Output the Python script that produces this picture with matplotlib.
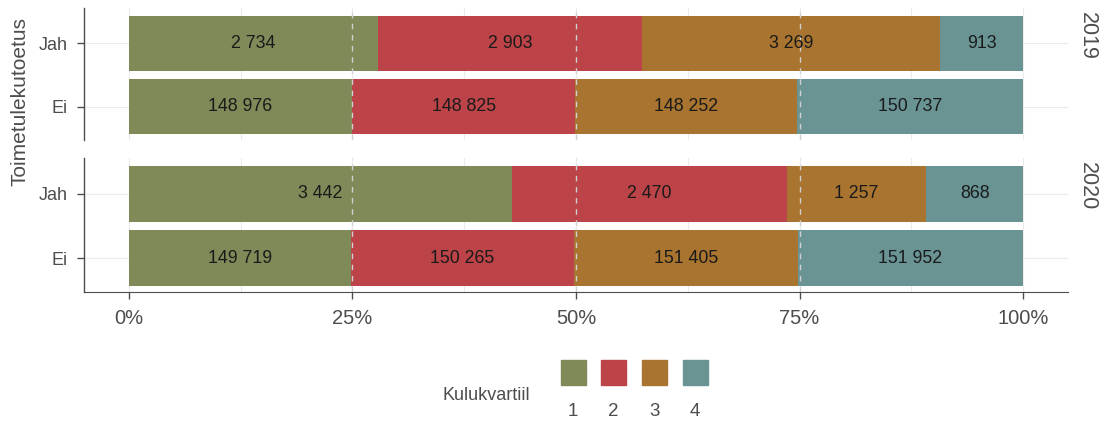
import numpy as np
import matplotlib.pyplot as plt
from matplotlib.patches import Rectangle

plt.rcParams['font.family'] = ['Liberation Sans', 'DejaVu Sans']

# data
years = ['2019', '2020']
groups = ['Ei', 'Jah']
quartiles = ['1', '2', '3', '4']
counts_2019 = {'Ei': [148976, 148825, 148252, 150737], 'Jah': [2734, 2903, 3269, 913]}
counts_2020 = {'Ei': [149719, 150265, 151405, 151952], 'Jah': [3442, 2470, 1257, 868]}
colors = ['#7F8A58', '#BC4347', '#A8742F', '#6A9494']

W, H = 1100, 423
fig = plt.figure(figsize=(W / 100, H / 100), dpi=100)

def fmt(n):
    return f'{n:,}'.replace(',', ' ')

# panel boxes in pixels: (top, bottom)
panels = [(8, 140), (158, 292)]
axes = []
for (top, bot), year, data in zip(panels, years, [counts_2019, counts_2020]):
    ax = fig.add_axes([84 / W, (H - bot) / H, (1068 - 84) / W, (bot - top) / H])
    axes.append(ax)
    ax.set_xlim(-0.0503, 1.0503)
    ax.set_ylim(-0.53, 1.56)
    for x in np.arange(0, 1.01, 0.125):
        ax.axvline(x, color='#EBEBEB', lw=0.8, zorder=0)
    for i in range(len(groups)):
        ax.axhline(i, color='#EBEBEB', lw=0.8, zorder=0)
    for i, g in enumerate(groups):
        vals = np.array(data[g], dtype=float)
        share = vals / vals.sum()
        left = np.concatenate([[0], np.cumsum(share)[:-1]])
        ax.barh(i, share, left=left, height=0.88, color=colors, zorder=2)
        for l, s, v in zip(left, share, vals):
            ax.text(l + s / 2, i, fmt(int(v)), ha='center', va='center',
                    fontsize=12.8, color='#1A1A1A', zorder=4)
    for x in [0.25, 0.5, 0.75]:
        ax.axvline(x, color='#D0D0D0', lw=1, ls=(0, (4, 4)), zorder=3)
    ax.set_yticks(range(len(groups)))
    ax.set_yticklabels(groups, fontsize=13, color='#4D4D4D')
    ax.tick_params(axis='y', length=5, color='#4D4D4D', width=1, pad=7)
    for s in ['top', 'right', 'bottom']:
        ax.spines[s].set_visible(False)
    ax.spines['left'].set_color('#4D4D4D')
    ax.spines['left'].set_linewidth(1)
    fig.text(1087 / W, (H - top - 4) / H, year, rotation=-90, ha='center', va='top',
             fontsize=15.5, color='#4D4D4D')

axes[0].set_xticks([])
ax = axes[1]
ax.spines['bottom'].set_visible(True)
ax.spines['bottom'].set_color('#4D4D4D')
ax.set_xticks([0, 0.25, 0.5, 0.75, 1])
ax.set_xticklabels(['0%', '25%', '50%', '75%', '100%'], fontsize=14.5, color='#4D4D4D')
ax.tick_params(axis='x', length=5, color='#4D4D4D', width=1, pad=7)

fig.text(20 / W, (H - 102) / H, 'Toimetulekutoetus', rotation=90, ha='center',
         va='center', fontsize=15, color='#4D4D4D')

# legend
lax = fig.add_axes([0, 0, 1, 1])
lax.set_xlim(0, W)
lax.set_ylim(H, 0)
lax.axis('off')
lax.text(530, 395, 'Kulukvartiil', ha='right', va='center', fontsize=13, color='#4D4D4D')
for i, (q, c) in enumerate(zip(quartiles, colors)):
    cx = 573 + i * 40.7
    lax.add_patch(Rectangle((cx - 12.5, 360), 25, 25, color=c))
    lax.text(cx, 412, q, ha='center', va='center', fontsize=13.5, color='#4D4D4D')

fig.savefig('out.png', dpi=100, facecolor='white')
